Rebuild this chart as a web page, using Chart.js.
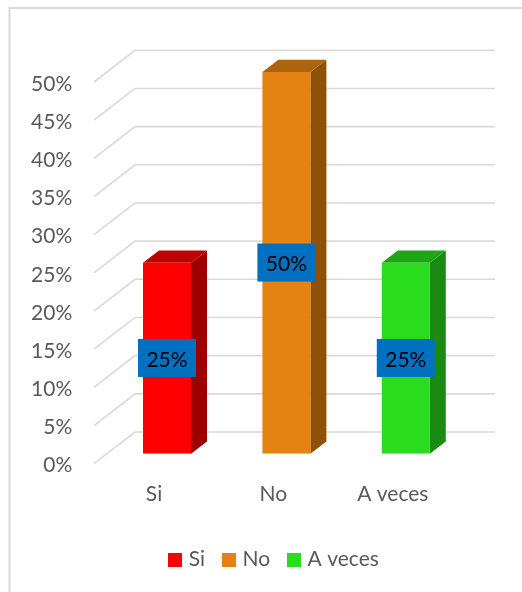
<!DOCTYPE html>
<html><head><meta charset="utf-8">
<style>html,body{margin:0;padding:0;background:#fff}canvas{display:block}</style>
<script src="https://cdn.jsdelivr.net/npm/chart.js@4"></script></head>
<body><canvas id="c" width="522" height="592"></canvas>
<script>
const categories = ['Si','No','A veces'];
const values = [25,50,25];
const frontColors = ['#FF0000','#E48312','#2ADC1E'];
const topColors = ['#C00000','#AC640D','#1FA516'];
const sideColors = ['#9C0000','#8F5108','#1A8A13'];
const yMax = 50, yStep = 5;
const grey = '#D9D9D9', textGrey = '#595959', labelBlue = '#0070C0';
const FONT = 'Lato, Carlito, sans-serif';

function swatch(color){
  const s=document.createElement('canvas');s.width=14;s.height=14;
  const x=s.getContext('2d');x.fillStyle=color;x.fillRect(0,0,14,14);
  return s;
}

const scene3d = {
  id:'scene3d',
  afterLayout(chart){
    chart.legend.left += 85.5;
  },
  beforeDraw(chart){
    const {ctx,width,height}=chart;
    ctx.save();
    ctx.fillStyle='#fff';ctx.fillRect(0,0,width,height);
    ctx.strokeStyle=grey;ctx.lineWidth=2;
    ctx.beginPath();ctx.moveTo(9.5,height);ctx.lineTo(9.5,8);ctx.lineTo(width,8);ctx.stroke();
    ctx.restore();
  },
  beforeDatasetsDraw(chart){
    const {ctx,chartArea:a,scales:{y}}=chart;
    ctx.save();
    ctx.strokeStyle=grey;ctx.lineWidth=1.6;
    y.ticks.forEach(t=>{
      const p=y.getPixelForValue(t.value);
      ctx.beginPath();
      ctx.moveTo(a.left-13.3,p+10);
      ctx.lineTo(a.left+27.7,p-21.7);
      ctx.lineTo(a.right+29.5,p-21.7);
      ctx.stroke();
    });
    const meta=chart.getDatasetMeta(0);
    meta.data.forEach((b,i)=>{
      const L=b.x-b.width/2,R=b.x+b.width/2,T=b.y,B=b.base;
      const dx=16,dy=12.3;
      ctx.fillStyle=sideColors[i];
      ctx.beginPath();ctx.moveTo(R,T);ctx.lineTo(R+dx,T-dy);ctx.lineTo(R+dx,B-dy);ctx.lineTo(R,B);ctx.closePath();ctx.fill();
      ctx.fillStyle=topColors[i];
      ctx.beginPath();ctx.moveTo(L,T);ctx.lineTo(L+dx,T-dy);ctx.lineTo(R+dx,T-dy);ctx.lineTo(R,T);ctx.closePath();ctx.fill();
    });
    ctx.restore();
  },
  afterDatasetsDraw(chart){
    const {ctx}=chart;
    const meta=chart.getDatasetMeta(0);
    ctx.save();
    meta.data.forEach((b,i)=>{
      const cy=(b.y+b.base)/2;
      ctx.fillStyle=labelBlue;
      ctx.fillRect(b.x-29,cy-19.3,58,38);
      ctx.fillStyle='#000';
      ctx.font='21px '+FONT;ctx.textAlign='center';ctx.textBaseline='middle';
      ctx.fillText(values[i]+'%',b.x,cy+1.5);
    });
    ctx.restore();
  }
};

new Chart(document.getElementById('c'),{
  type:'bar',
  data:{labels:categories,datasets:[{label:'Serie',data:values,backgroundColor:frontColors,borderWidth:0,barPercentage:0.402,categoryPercentage:1}]},
  plugins:[scene3d],
  options:{
    responsive:false,animation:false,
    layout:{padding:{top:72,right:56.5,left:0,bottom:12}},
    plugins:{
      tooltip:{enabled:false},title:{display:false},
      legend:{position:'bottom',align:'center',onClick:null,
        labels:{usePointStyle:true,pointStyleWidth:6,boxHeight:14,padding:21,color:textGrey,font:{family:FONT,size:21},
          generateLabels(){return categories.map((c,i)=>({text:c,fillStyle:frontColors[i],strokeStyle:frontColors[i],lineWidth:0,pointStyle:swatch(frontColors[i]),index:i,fontColor:textGrey}));}}}
    },
    scales:{
      x:{grid:{display:false},border:{display:false},
        ticks:{color:textGrey,font:{family:FONT,size:21},padding:20,labelOffset:-13,maxRotation:0,autoSkip:false},
        afterFit(s){s.height=74.3;}},
      y:{min:0,max:yMax,grid:{display:false,drawTicks:false},border:{display:false},
        ticks:{stepSize:yStep,color:textGrey,font:{family:FONT,size:21},padding:35,labelOffset:12,callback:v=>v+'%'},
        afterFit(s){s.width=107.3;}}
    }
  }
});
</script></body></html>
